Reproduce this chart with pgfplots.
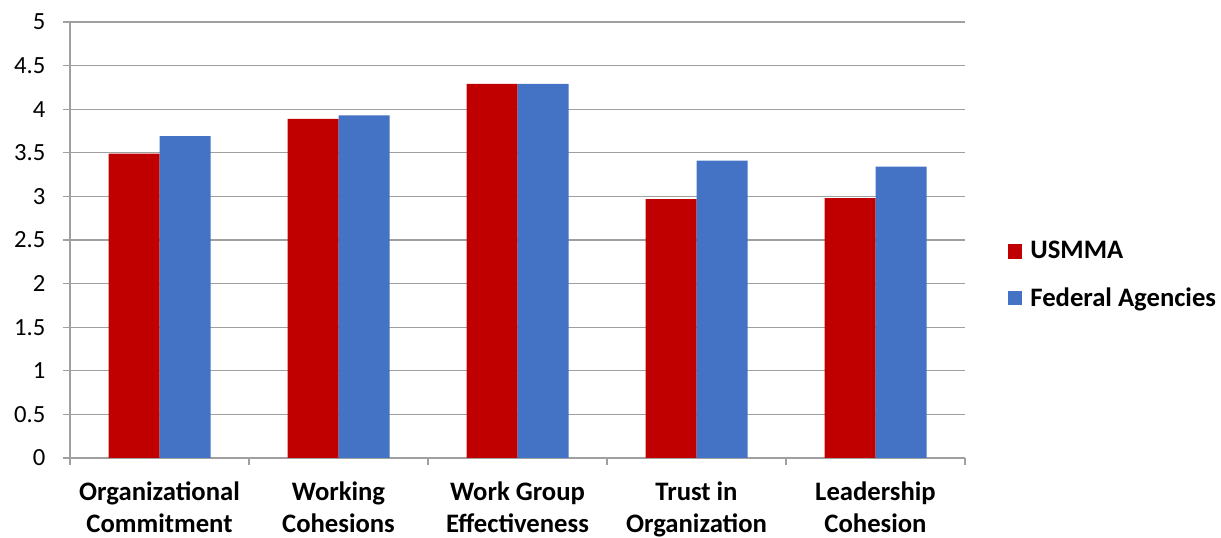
\documentclass[border=0pt]{standalone}
\usepackage{pgfplots}
\pgfplotsset{compat=1.18}
\usepackage{fontspec}
\setmainfont{Carlito}
\definecolor{usred}{RGB}{192,0,0}
\definecolor{fedblue}{RGB}{68,114,196}
\definecolor{gridgray}{RGB}{160,160,160}
\begin{document}
\begin{tikzpicture}
\path[use as bounding box] (0pt,0pt) rectangle (915.75pt,403.5pt);
\begin{axis}[
  at={(52.5pt,60pt)}, anchor=south west,
  width=671.25pt, height=327pt, scale only axis,
  ymin=0, ymax=5, ytick={0,0.5,...,5},
  xmin=-0.5, xmax=4.5,
  xtick={0,1,2,3,4},
  xticklabels={{Organizational\\Commitment},{Working\\Cohesions},{Work Group\\Effectiveness},{Trust in\\Organization},{Leadership\\Cohesion}},
  xticklabel style={align=center, font=\fontsize{20}{24.5}\selectfont\bfseries, yshift=-9pt},
  major x tick style={draw=none},
  minor xtick={-0.5,0.5,1.5,2.5,3.5,4.5},
  minor x tick style={draw=gridgray, line width=0.8pt},
  minor tick length=5pt,
  major tick length=5pt,
  tick align=outside,
  ytick style={draw=gridgray, line width=0.8pt},
  yticklabel style={font=\fontsize{18.5}{20}\selectfont, xshift=-10pt},
  /pgf/number format/assume math mode=true,
  /pgf/number format/.cd, fixed, /pgfplots/.cd,
  axis x line*=bottom, axis y line*=left,
  axis line style={draw=gridgray, line width=0.8pt, -},
  ymajorgrids, grid style={draw=gridgray, line width=0.8pt},
  ybar=0pt, bar width=38.25pt,
  legend style={at={(1.043,0.42)}, anchor=west, draw=none, fill=none,
    font=\fontsize{20}{22}\selectfont\bfseries, row sep=16pt, column sep=4pt,
    legend cell align=left},
  legend image code/.code={\fill[#1] (0pt,-5.5pt) rectangle (11pt,5.5pt);},
]
\addplot[fill=usred, draw=none] coordinates {(0,3.49) (1,3.89) (2,4.29) (3,2.97) (4,2.98)};
\addplot[fill=fedblue, draw=none] coordinates {(0,3.69) (1,3.93) (2,4.29) (3,3.41) (4,3.34)};
\legend{USMMA, Federal Agencies}
\end{axis}
\end{tikzpicture}
\end{document}
